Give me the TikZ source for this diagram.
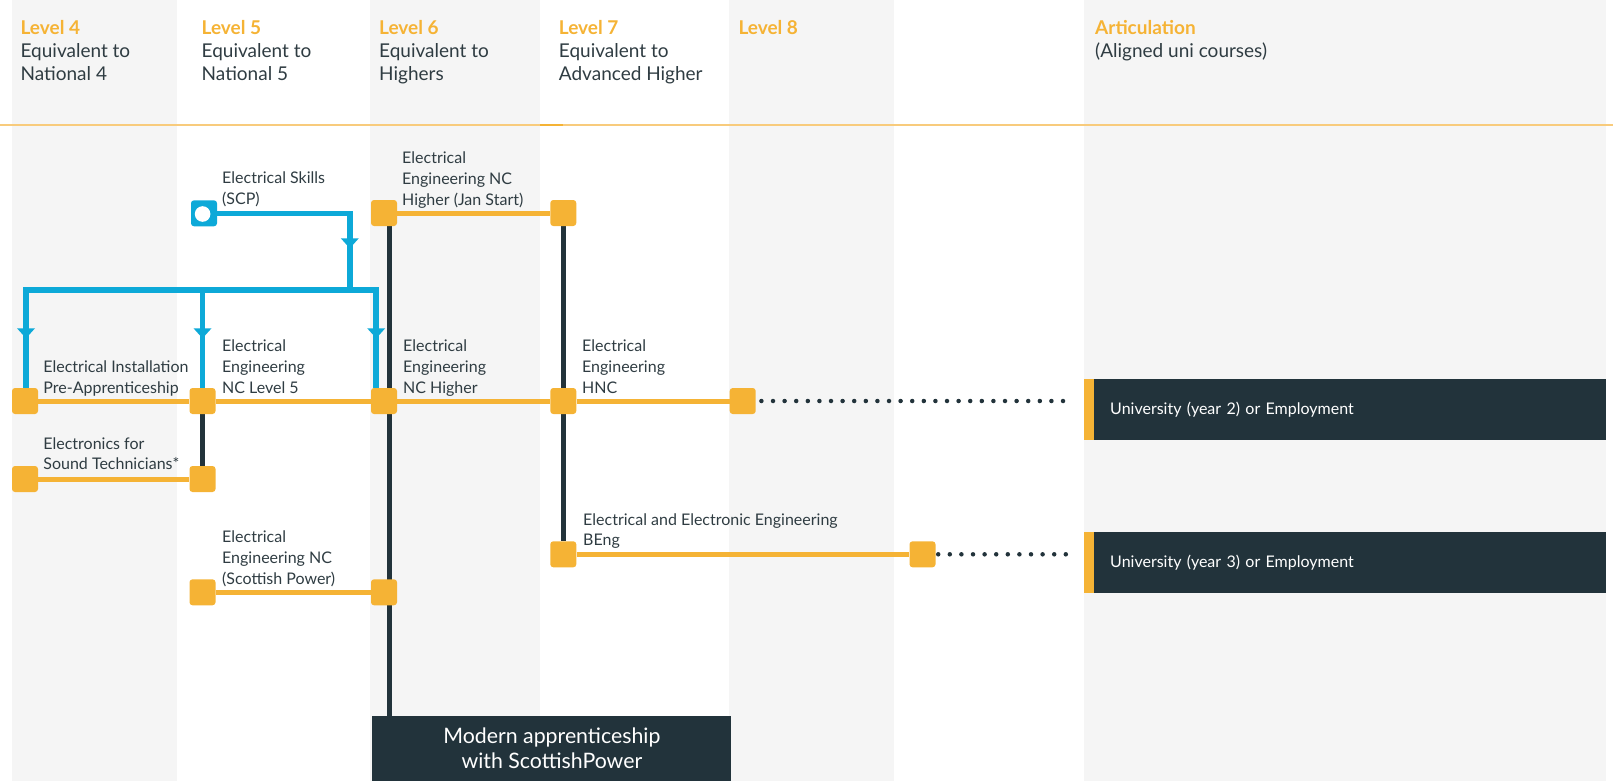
\documentclass[tikz,border=0pt]{standalone}
\usepackage{fontspec}
\setmainfont{Lato}
\definecolor{cgray}{HTML}{F5F5F5}
\definecolor{corange}{HTML}{F5B335}
\definecolor{cdark}{HTML}{22333B}
\definecolor{cblue}{HTML}{0DA9D8}
\definecolor{ctext}{HTML}{2F3C42}
\definecolor{cline}{HTML}{F8CB7C}
\newcommand\lvltxt[1]{{\color{corange}\bfseries #1}}
\pgfdeclarelayer{bands}
\pgfdeclarelayer{links}
\pgfsetlayers{bands,links,main}
\begin{document}
\begin{tikzpicture}[x=1pt,y=-1pt,
 onode/.style={fill=corange, rounded corners=3pt, minimum size=26pt, inner sep=0pt},
 snode/.style={fill=cblue, rounded corners=3pt, minimum size=26pt, inner sep=0pt},
 oline/.style={draw=corange, line width=5pt},
 dline/.style={draw=cdark, line width=5pt},
 bline/.style={draw=cblue, line width=5.5pt, line join=miter},
 dotline/.style={draw=cdark, line width=4.5pt, line cap=round, dash pattern=on 0pt off 11.6pt},
 lbl/.style={anchor=north west, inner sep=0pt, align=left, text=ctext, font=\fontsize{16}{20.8}\selectfont},
 hdr/.style={anchor=north west, inner sep=0pt, align=left, text=ctext, font=\fontsize{19}{23}\selectfont},
 ubox/.style={fill=cdark, text=white, anchor=west, minimum height=61pt, text width=480pt, inner xsep=16pt, inner ysep=0pt, align=left, font=\fontsize{16}{20}\selectfont},
 mbox/.style={fill=cdark, text=white, minimum width=359pt, minimum height=65pt, inner sep=0pt, align=center, font=\fontsize{21.3}{24.6}\selectfont},
 barrow/.style={fill=cblue}
]
\useasboundingbox (0,0) rectangle (1613,781);
\begin{pgfonlayer}{bands}
\fill[cgray] (12,0) rectangle (177,781);
\fill[cgray] (370,0) rectangle (540,781);
\fill[cgray] (729,0) rectangle (894,781);
\fill[cgray] (1084,0) rectangle (1606,781);
\draw[cline, line width=1.3pt] (0,125) -- (1613,125);
\draw[corange, line width=1.5pt] (540,125) -- (563,125);
\end{pgfonlayer}

% headers
\node[hdr] (h4) at (20.4,18.5) {\strut\lvltxt{Level 4}\\Equivalent to\\National 4};
\node[hdr] (h5) at (201.5,18.5) {\strut\lvltxt{Level 5}\\Equivalent to\\National 5};
\node[hdr] (h6) at (379,18.5) {\strut\lvltxt{Level 6}\\Equivalent to\\Highers};
\node[hdr] (h7) at (558.7,18.5) {\strut\lvltxt{Level 7}\\Equivalent to\\Advanced Higher};
\node[hdr] (h8) at (738.3,18.5) {\strut\lvltxt{Level 8}};
\node[hdr] (hA) at (1095,18.5) {\strut\lvltxt{Articulation}\\(Aligned uni courses)};

% nodes
\node[onode] (A) at (25,401) {};
\node[onode] (B) at (202.5,401) {};
\node[onode] (C) at (384,401) {};
\node[onode] (D) at (563.3,401) {};
\node[onode] (E) at (742.7,401) {};
\node[onode] (F) at (384,213) {};
\node[onode] (G) at (563.3,213) {};
\node[onode] (H) at (25,479) {};
\node[onode] (I) at (202.5,479) {};
\node[onode] (J) at (202.5,592.3) {};
\node[onode] (K) at (384,592.3) {};
\node[onode] (L) at (563.3,554.3) {};
\node[onode] (M) at (922.5,554.3) {};
\node[snode, path picture={\fill[white] ([xshift=-1.4pt,yshift=-0.7pt]path picture bounding box.center) circle (7.8pt);}] (S) at (204,213.3) {};

\node[mbox] (MA) at (551.9,748.5) {Modern apprenticeship\\with ScottishPower};
\node[ubox] (U2) at (1094,409.5) {University (year 2) or Employment};
\node[ubox] (U3) at (1094,562.4) {University (year 3) or Employment};
\fill[corange] (U2.north west) rectangle ([xshift=-10pt]U2.south west);
\fill[corange] (U3.north west) rectangle ([xshift=-10pt]U3.south west);

\coordinate (bj) at (349.8,290);
\coordinate (bl) at (26,290);
\coordinate (bm) at (202.5,290);
\coordinate (br) at (376.2,290);
\coordinate (e1) at (1074,401);
\coordinate (e2) at (1072,554.3);

\begin{pgfonlayer}{links}
\draw[oline] (A) -- (B) -- (C) -- (D) -- (E);
\draw[oline] (F) -- (G);
\draw[oline] (H) -- (I);
\draw[oline] (J) -- (K);
\draw[oline] (L) -- (M);
\draw[dline] (B) -- (I);
\draw[dline] (G) -- (L);
\draw[dline] ([xshift=5.5pt]F.center) -- ([xshift=5.5pt]F.center |- MA.north);
\draw[bline] (S) -| (bj);
\draw[bline] (bl |- A.north) -- (bl) -- (br) -- (br |- C.north);
\draw[bline] (bm) -- (B);
\draw[dotline] ([xshift=5.5pt]E.east) -- (e1);
\draw[dotline] ([xshift=2.5pt]M.east) -- (e2);
\end{pgfonlayer}
\foreach \p in {(349.8,243.3),(26,333.3),(202.5,333.3),(376.2,333.3)}{
  \fill[barrow,shift={\p}] (-9,-5) -- (9,-5) -- (0,5) -- cycle;
}

% labels
\node[lbl] (tS) at (222,168.7) {\strut Electrical Skills\\(SCP)};
\node[lbl] (tF) at (402,148.7) {\strut Electrical\\Engineering NC\\Higher (Jan Start)};
\node[lbl] (tA) at (43.2,357.7) {\strut Electrical Installation\\Pre-Apprenticeship};
\node[lbl] (tB) at (222,337.1) {\strut Electrical\\Engineering\\NC Level 5};
\node[lbl] (tC) at (403,337.1) {\strut Electrical\\Engineering\\NC Higher};
\node[lbl] (tD) at (582,337.1) {\strut Electrical\\Engineering\\HNC};
\node[lbl] (tH) at (43.2,434.4) {\strut Electronics for\\Sound Technicians*};
\node[lbl] (tJ) at (222,527.7) {\strut Electrical\\Engineering NC\\(Scottish Power)};
\node[lbl] (tL) at (583,510.4) {\strut Electrical and Electronic Engineering\\BEng};
\end{tikzpicture}
\end{document}
